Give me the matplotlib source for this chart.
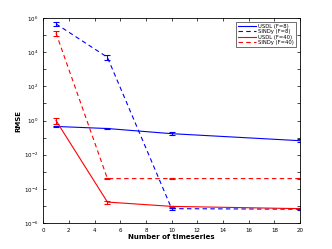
import numpy as np
import matplotlib
matplotlib.use('Agg')
import matplotlib.pyplot as plt
from matplotlib.lines import Line2D

# number of timeseries used
n_series = [1, 5, 10, 20]

# RMSE values
usdl_f8   = [0.45, 0.34, 0.17, 0.066]
sindy_f8  = [4.5e5, 5.0e3, 7.0e-6, 6.5e-6]
usdl_f40  = [1.0, 1.7e-5, 9.5e-6, 7.0e-6]
sindy_f40 = [1.3e5, 4.0e-4, 4.0e-4, 4.0e-4]

# error bars
usdl_f8_err   = [0.03, 0.02, 0.03, 0.012]
sindy_f8_err  = [1.2e5, 1.5e3, 1.0e-6, 0.8e-6]
usdl_f40_err  = [0.35, 0.3e-5, 1.0e-6, 0.5e-6]
sindy_f40_err = [0.4e5, 0.3e-4, 0.2e-4, 0.2e-4]

labels = ['USDL (F=8)', 'SINDy (F=8)', 'USDL (F=40)', 'SINDy (F=40)']

fig = plt.figure(figsize=(3.32, 2.49), dpi=100)
ax = fig.add_axes([0.13, 0.104, 0.774, 0.824])

kw = dict(lw=0.8, capsize=2, elinewidth=0.8, capthick=0.8)
ax.errorbar(n_series, usdl_f8, yerr=usdl_f8_err, color='b', ls='-', **kw)
ax.errorbar(n_series, sindy_f8, yerr=sindy_f8_err, color='b', ls='--', dashes=(4, 3), **kw)
ax.errorbar(n_series, usdl_f40, yerr=usdl_f40_err, color='r', ls='-', **kw)
ax.errorbar(n_series, sindy_f40, yerr=sindy_f40_err, color='r', ls='--', dashes=(4, 3), **kw)

ax.set_yscale('log')
ax.set_xlim(0, 20)
ax.set_ylim(1e-6, 1e6)
ax.set_xticks(np.arange(0, 21, 2))
ax.set_yticks([1e-6, 1e-4, 1e-2, 1e0, 1e2, 1e4, 1e6])
ax.yaxis.set_minor_locator(matplotlib.ticker.LogLocator(base=10, subs=[1.0], numticks=20))
ax.yaxis.set_minor_formatter(matplotlib.ticker.NullFormatter())
ax.tick_params(which='both', direction='in', top=True, right=True, labelsize=4, length=2, width=0.5)
for s in ax.spines.values():
    s.set_linewidth(0.6)

ax.set_xlabel('Number of timeseries', fontsize=5, fontweight='bold', labelpad=1)
ax.set_ylabel('RMSE', fontsize=5, fontweight='bold', labelpad=2)

# legend with plain line handles (no errorbar glyphs)
handles = [Line2D([], [], color='b', lw=0.8),
           Line2D([], [], color='b', lw=0.8, ls='--', dashes=(4, 3)),
           Line2D([], [], color='r', lw=0.8),
           Line2D([], [], color='r', lw=0.8, ls='--', dashes=(4, 3))]
leg = ax.legend(handles, labels, loc='upper right', fontsize=3.8, handlelength=3.5, frameon=True,
                fancybox=False, edgecolor='k', borderpad=0.3, labelspacing=0.1,
                handletextpad=0.4, borderaxespad=0.8)
leg.get_frame().set_linewidth(0.5)

fig.savefig('out.png', dpi=100)
